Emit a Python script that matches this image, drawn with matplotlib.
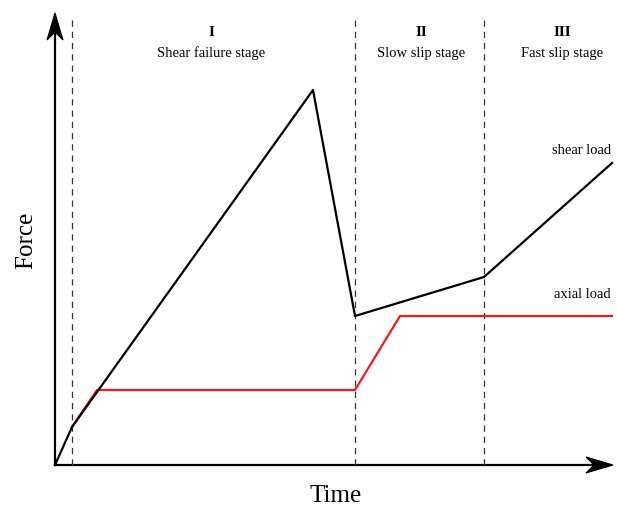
import matplotlib.pyplot as plt
from matplotlib.patches import Polygon

plt.rcParams['font.family'] = ['Liberation Serif', 'DejaVu Serif']

# time / force values (arbitrary units, origin at the axes corner)
shear_t = [0, 17, 258, 300, 429, 557]
shear_f = [0, 38, 375, 149, 188, 302]
axial_t = [17, 42, 300, 345, 557]
axial_f = [38, 75, 75, 149, 149]
stage_bounds = [17, 300, 429]
stage_nums = ['I', 'II', 'III']
stage_names = ['Shear failure stage', 'Slow slip stage', 'Fast slip stage']
stage_centers = [156, 366, 507]

fig = plt.figure(figsize=(6.17, 5.07), dpi=100)
ax = fig.add_axes([0, 0, 1, 1])
ax.set_xlim(-55, 562)
ax.set_ylim(-42, 465)
ax.axis('off')


def stealth(tip, direction, length=27, width=16, notch=8):
    # arrow head with concave back, 1 data unit == 1 pixel here
    tx, ty = tip
    dx, dy = direction
    px, py = -dy, dx
    pts = [(tx, ty),
           (tx - dx * length + px * width / 2, ty - dy * length + py * width / 2),
           (tx - dx * (length - notch), ty - dy * (length - notch)),
           (tx - dx * length - px * width / 2, ty - dy * length - py * width / 2)]
    ax.add_patch(Polygon(pts, closed=True, color='black', lw=0.8, zorder=5))


ax.plot([0, 0], [0, 440], color='black', lw=1.6)
ax.plot([0, 545], [0, 0], color='black', lw=1.6)
stealth((0, 452), (0, 1))
stealth((558, 0), (1, 0))

for b in stage_bounds:
    ax.plot([b, b], [0, 450], color='#333333', lw=0.9, ls=(0, (5, 4)))

ax.plot(axial_t, axial_f, color='#ee1c1c', lw=1.6)
ax.plot(shear_t, shear_f, color='black', lw=1.6)

for c, n, s in zip(stage_centers, stage_nums, stage_names):
    ax.text(c, 432, n, ha='center', va='center', fontsize=11, fontweight='bold')
    ax.text(c, 412, s, ha='center', va='center', fontsize=10.5)

ax.text(527, 315, 'shear load', ha='center', va='center', fontsize=10.5)
ax.text(527, 170, 'axial load', ha='center', va='center', fontsize=10.5)

ax.text(-29, 225, 'Force', ha='center', va='center', rotation=90, fontsize=18)
ax.text(281, -31, 'Time', ha='center', va='center', fontsize=18)

fig.savefig('out.png', dpi=100)
